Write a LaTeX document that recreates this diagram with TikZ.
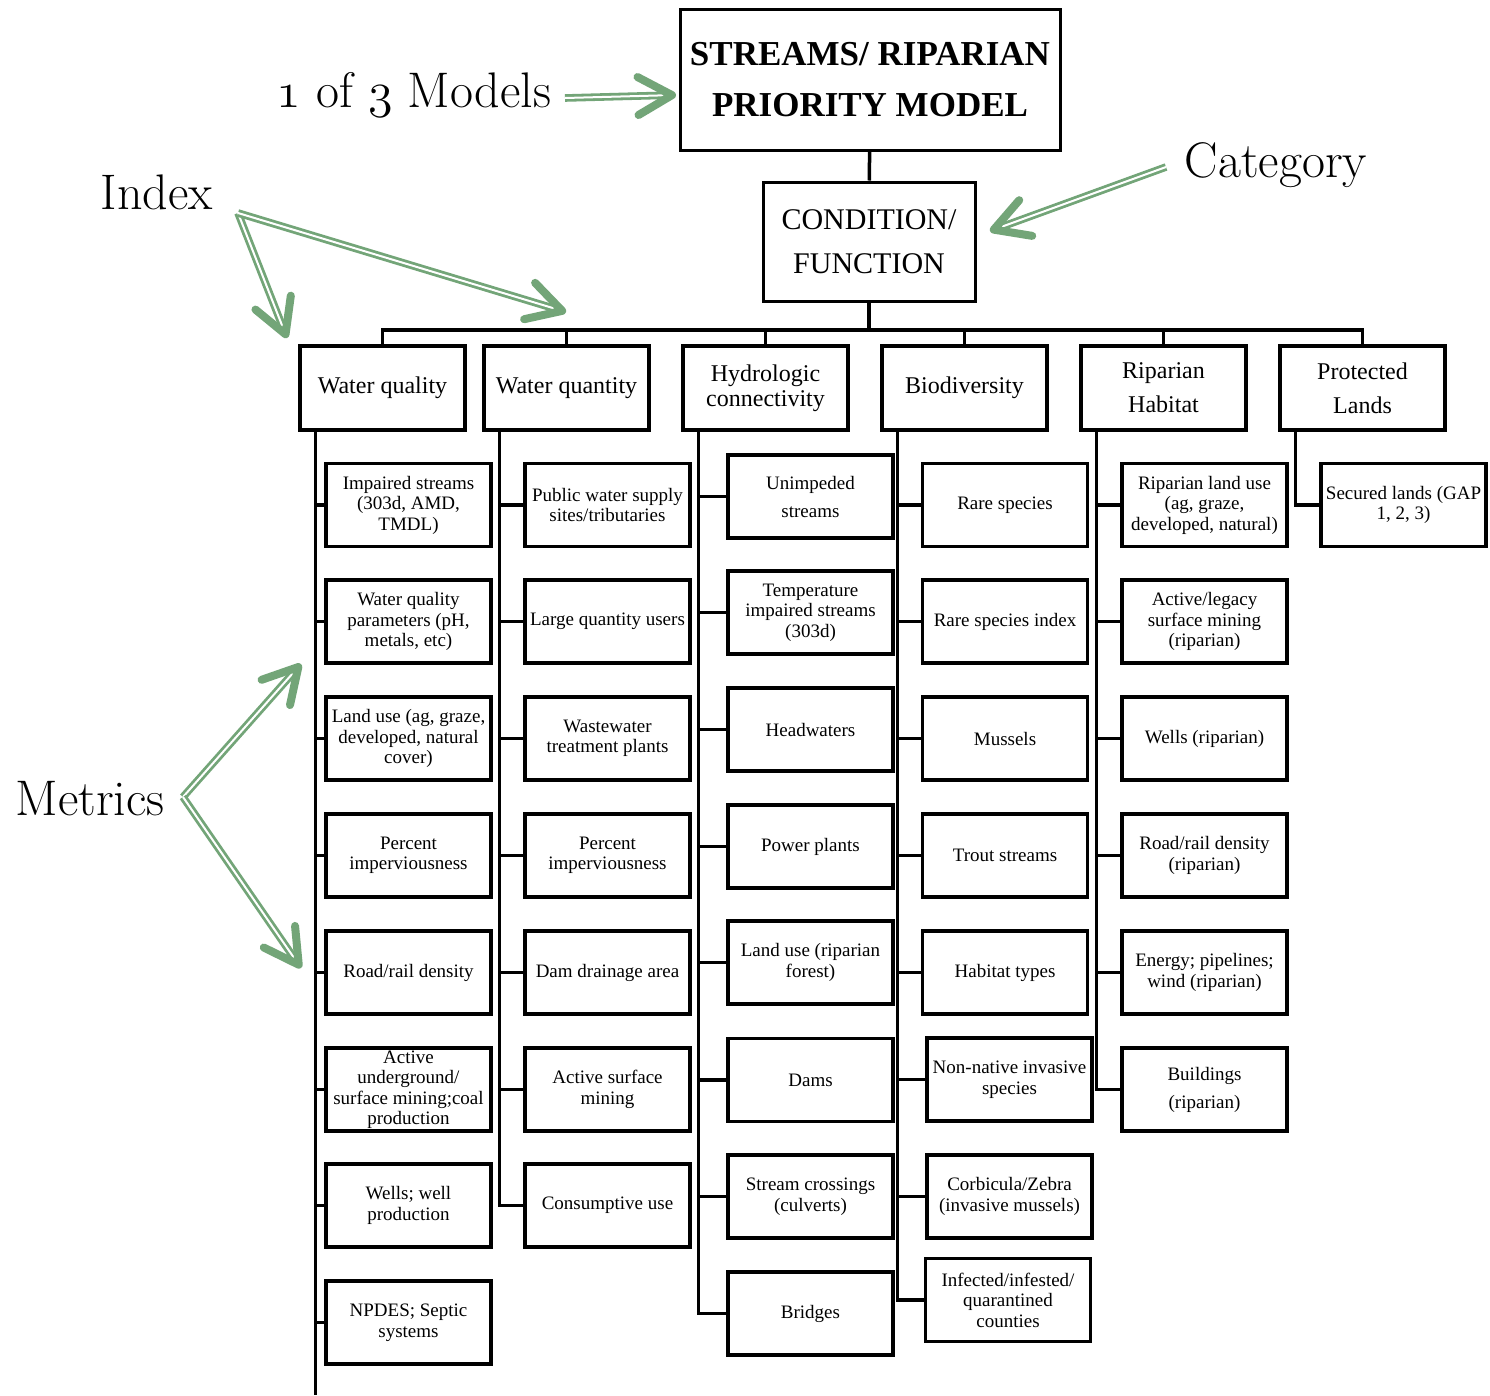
\RequirePackage{fix-cm}
\documentclass[tikz,border=0pt]{standalone}
\usepackage{fontspec}
\setmainfont{Liberation Serif}
\newfontfamily\annfont{Latin Modern Roman}
\usetikzlibrary{arrows.meta}
\definecolor{idxgreen}{RGB}{115,165,120}
\newcommand{\osnum}[1]{{\usefont{OML}{cmm}{m}{it}#1}}

\begin{document}
\begin{tikzpicture}[x=1pt, y=-1pt, line width=3.5pt,
  every node/.style={draw, align=center, inner sep=0pt},
  modelbox/.style={minimum width=380pt, minimum height=141pt, line width=3pt, font=\bfseries\fontsize{35}{51}\selectfont},
  catbox/.style={minimum width=212pt, minimum height=119pt, line width=3pt, font=\fontsize{30}{44}\selectfont},
  idxbox/.style={minimum width=165pt, minimum height=84pt, font=\fontsize{24}{25}\selectfont},
  metric/.style={minimum width=165pt, minimum height=83pt, font=\fontsize{19}{20.5}\selectfont},
  annot/.style={draw=none, font=\annfont\fontsize{50}{54}\selectfont},
  greenarrow/.style={draw=idxgreen, line width=2.8pt, double=white, double distance=2pt,
    -{Straight Barb[length=34pt, width=38pt, line width=8pt, round]}}]
  \useasboundingbox[fill=white] (0,0) rectangle (1490,1395);

  % model / category
  \node[modelbox] (model) at (870,79.5) {STREAMS/ RIPARIAN\\PRIORITY MODEL};
  \node[catbox] (cond) at (869,241.5) {CONDITION/\\FUNCTION};
  \coordinate (bus) at (869,330);

  % indices
  \node[idxbox] (wq) at (382.5,388) {Water quality};
  \node[idxbox] (wqt) at (566.5,388) {Water quantity};
  \node[idxbox] (hc) at (765.5,388) {Hydrologic\\connectivity};
  \node[idxbox] (bio) at (964.5,388) {Biodiversity};
  \node[idxbox, font=\fontsize{24}{34}\selectfont] (rh) at (1163.5,388) {Riparian\\Habitat};
  \node[idxbox, font=\fontsize{24}{34}\selectfont] (pl) at (1362.5,388) {Protected\\Lands};

  \draw (model) -- (cond);
  \draw (cond) -- (bus);
  \draw (wq.north) -- (wq.north |- bus) -- (pl.north |- bus) -- (pl.north);
  \draw (wqt.north) -- (wqt.north |- bus) (hc.north) -- (hc.north |- bus)
        (bio.north) -- (bio.north |- bus) (rh.north) -- (rh.north |- bus);

  % metrics: water quality
  \node[metric] (m11) at (408.5,505) {Impaired streams\\(303d, AMD,\\TMDL)};
  \node[metric] (m12) at (408.5,621.5) {Water quality\\parameters (pH,\\metals, etc)};
  \node[metric] (m13) at (408.5,738.5) {Land use (ag, graze,\\developed, natural\\cover)};
  \node[metric] (m14) at (408.5,855.5) {Percent\\imperviousness};
  \node[metric] (m15) at (408.5,972.5) {Road/rail density};
  \node[metric] (m16) at (408.5,1089.5) {Active\\underground/\\surface mining;coal\\production};
  \node[metric] (m17) at (408.5,1205.5) {Wells; well\\production};
  \node[metric] (m18) at (408.5,1322.5) {NPDES; Septic\\systems};

  % metrics: water quantity
  \node[metric] (m21) at (607.5,505) {Public water supply\\sites/tributaries};
  \node[metric] (m22) at (607.5,621.5) {Large quantity users};
  \node[metric] (m23) at (607.5,738.5) {Wastewater\\treatment plants};
  \node[metric] (m24) at (607.5,855.5) {Percent\\imperviousness};
  \node[metric] (m25) at (607.5,972.5) {Dam drainage area};
  \node[metric] (m26) at (607.5,1089.5) {Active surface\\mining};
  \node[metric] (m27) at (607.5,1205.5) {Consumptive use};

  % metrics: hydrologic connectivity
  \node[metric, font=\fontsize{19}{28}\selectfont] (m31) at (810.5,496.5) {Unimpeded\\streams};
  \node[metric] (m32) at (810.5,612.5) {Temperature\\impaired streams\\(303d)};
  \node[metric] (m33) at (810.5,729.5) {Headwaters};
  \node[metric] (m34) at (810.5,846.5) {Power plants};
  \node[metric] (m35) at (810.5,962.5) {Land use (riparian\\forest)};
  \node[metric] (m36) at (810.5,1080) {Dams};
  \node[metric] (m37) at (810.5,1196.5) {Stream crossings\\(culverts)};
  \node[metric] (m38) at (810.5,1313.5) {Bridges};

  % metrics: biodiversity
  \node[metric] (m41) at (1005,505) {Rare species};
  \node[metric] (m42) at (1005,621.5) {Rare species index};
  \node[metric] (m43) at (1005,738.5) {Mussels};
  \node[metric] (m44) at (1005,855.5) {Trout streams};
  \node[metric] (m45) at (1005,972.5) {Habitat types};
  \node[metric] (m46) at (1009.5,1079.5) {Non-native invasive\\species};
  \node[metric] (m47) at (1009.5,1196.5) {Corbicula/Zebra\\(invasive mussels)};
  \node[metric] (m48) at (1008,1300) {Infected/infested/\\quarantined\\counties};

  % metrics: riparian habitat
  \node[metric] (m51) at (1204.5,505) {Riparian land use\\(ag, graze,\\developed, natural)};
  \node[metric] (m52) at (1204.5,621.5) {Active/legacy\\surface mining\\(riparian)};
  \node[metric] (m53) at (1204.5,738.5) {Wells (riparian)};
  \node[metric] (m54) at (1204.5,855.5) {Road/rail density\\(riparian)};
  \node[metric] (m55) at (1204.5,972.5) {Energy; pipelines;\\wind (riparian)};
  \node[metric, font=\fontsize{19}{28}\selectfont] (m56) at (1204.5,1089.5) {Buildings\\(riparian)};

  % metrics: protected lands
  \node[metric] (m61) at (1403.5,505) {Secured lands (GAP\\1, 2, 3)};

  % trunks
  \coordinate (t1) at ([xshift=17pt]wq.south west);
  \coordinate (t2) at ([xshift=17pt]wqt.south west);
  \coordinate (t3) at ([xshift=17pt]hc.south west);
  \coordinate (t4) at ([xshift=17pt]bio.south west);
  \coordinate (t5) at ([xshift=17pt]rh.south west);
  \coordinate (t6) at ([xshift=17pt]pl.south west);
  \coordinate (wqend) at (317,1395);
  \draw (t1) -- (t1 |- wqend);
  \draw (t1) |- (m11.west) (t1) |- (m12.west) (t1) |- (m13.west) (t1) |- (m14.west)
        (t1) |- (m15.west) (t1) |- (m16.west) (t1) |- (m17.west) (t1) |- (m18.west);
  \draw (t2) |- (m21.west) (t2) |- (m22.west) (t2) |- (m23.west) (t2) |- (m24.west)
        (t2) |- (m25.west) (t2) |- (m26.west) (t2) |- (m27.west);
  \draw (t3) |- (m31.west) (t3) |- (m32.west) (t3) |- (m33.west) (t3) |- (m34.west)
        (t3) |- (m35.west) (t3) |- (m36.west) (t3) |- (m37.west) (t3) |- (m38.west);
  \draw (t4) |- (m41.west) (t4) |- (m42.west) (t4) |- (m43.west) (t4) |- (m44.west)
        (t4) |- (m45.west) (t4) |- (m46.west) (t4) |- (m47.west) (t4) |- (m48.west);
  \draw (t5) |- (m51.west) (t5) |- (m52.west) (t5) |- (m53.west) (t5) |- (m54.west)
        (t5) |- (m55.west) (t5) |- (m56.west);
  \draw (t6) |- (m61.west);

  % annotations
  \node[annot] (models) at (414,95) {\osnum{1} of \osnum{3} Models};
  \node[annot] (index) at (157,192) {Index};
  \node[annot] (category) at (1276,165) {Category};
  \node[annot] (metrics) at (90,799) {Metrics};

  \coordinate (mA) at (565,98);
  \coordinate (mB) at (676,95);
  \coordinate (iA) at (238,213);
  \coordinate (iB) at (287,338);
  \coordinate (iC) at (566,312);
  \coordinate (cA) at (1166,167);
  \coordinate (cB) at (990,231);
  \coordinate (xA) at (183,797);
  \coordinate (xB) at (301,664);
  \coordinate (xC) at (301,968);
  \draw[greenarrow] (mA) -- (mB);
  \draw[greenarrow] (iA) -- (iB);
  \draw[greenarrow] (iA) -- (iC);
  \draw[greenarrow] (cA) -- (cB);
  \draw[greenarrow] (xA) -- (xB);
  \draw[greenarrow] (xA) -- (xC);
\end{tikzpicture}
\end{document}
